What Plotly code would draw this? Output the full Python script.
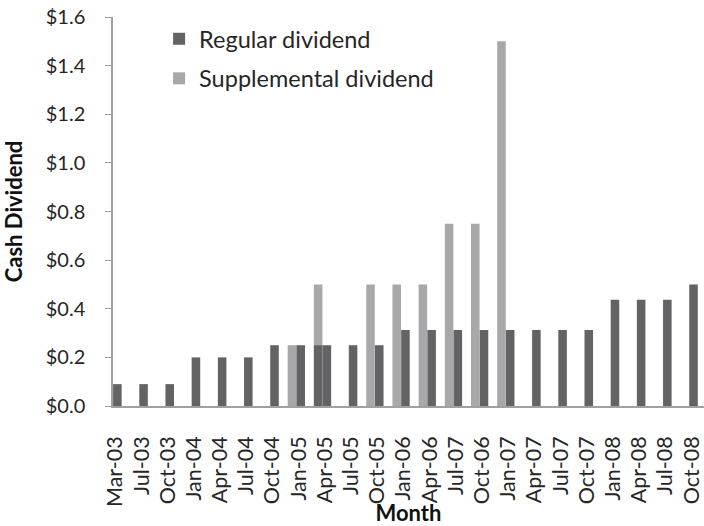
import plotly.graph_objects as go

# Axis slots (one slot per category, labels every 3rd slot)
tick_slots = list(range(0, 67, 3))
tick_labels = ["Mar-03", "Jul-03", "Oct-03", "Jan-04", "Apr-04", "Jul-04", "Oct-04",
               "Jan-05", "Apr-05", "Jul-05", "Oct-05", "Jan-06", "Apr-06", "Jul-07",
               "Oct-06", "Jan-07", "Apr-07", "Jul-07", "Oct-07", "Jan-08", "Apr-08",
               "Jul-08", "Oct-08"]
y_ticks = [0.0, 0.2, 0.4, 0.6, 0.8, 1.0, 1.2, 1.4, 1.6]
y_tick_labels = ["$0.0", "$0.2", "$0.4", "$0.6", "$0.8", "$1.0", "$1.2", "$1.4", "$1.6"]

regular_slots = [0, 3, 6, 9, 12, 15, 18, 21, 23, 24, 27, 30, 33, 36, 39, 42, 45,
                 48, 51, 54, 57, 60, 63, 66]
regular_values = [0.09, 0.09, 0.09, 0.20, 0.20, 0.20, 0.25, 0.25, 0.25, 0.25, 0.25,
                  0.25, 0.3125, 0.3125, 0.3125, 0.3125, 0.3125, 0.3125, 0.3125,
                  0.3125, 0.4375, 0.4375, 0.4375, 0.50]

supp_slots = [20, 23, 29, 32, 35, 38, 41, 44]
supp_values = [0.25, 0.50, 0.50, 0.50, 0.50, 0.75, 0.75, 1.50]

FONT = "Lato"
TXT = "#262626"
AXIS = "#a0a0a0"

fig = go.Figure()
fig.add_trace(go.Bar(x=supp_slots, y=supp_values, name="Supplemental dividend",
                     marker=dict(color="#a8a8aa", line=dict(width=0)), width=0.98,
                     legendgroup="s", legendrank=2))
fig.add_trace(go.Bar(x=regular_slots, y=regular_values, name="Regular dividend",
                     marker=dict(color="#636365", line=dict(width=0)), width=0.98,
                     legendgroup="r", legendrank=1))

fig.update_layout(
    width=704, height=526,
    margin=dict(l=113, r=0, t=17, b=120, autoexpand=False),
    barmode="overlay",
    plot_bgcolor="white", paper_bgcolor="white",
    font=dict(family=FONT, size=22, color=TXT),
    legend=dict(x=0.078, y=1.0, xanchor="left", yanchor="top",
                font=dict(size=23.5, color=TXT), tracegroupgap=6,
                bgcolor="rgba(0,0,0,0)"),
    xaxis=dict(range=[-0.5, 67.2], tickmode="array", tickvals=tick_slots,
               ticktext=tick_labels, tickangle=-90, showgrid=False,
               tickfont=dict(size=21.5),
               showline=True, linecolor=AXIS, linewidth=1.5, ticks="",
               ticklabelstandoff=20, ticklabelshift=-2, ticklabeloverflow="allow",
               zeroline=False, automargin=False,
               title=dict(text="<b>Month</b>", font=dict(size=22, color="#111"), standoff=0)),
    yaxis=dict(range=[0, 1.6], tickmode="array", tickvals=y_ticks,
               ticktext=y_tick_labels, tickfont=dict(size=20),
               showgrid=False, showline=True, linecolor=AXIS, linewidth=1.5,
               ticks="outside", ticklen=6, tickcolor=AXIS, ticklabelstandoff=16,
               ticklabeloverflow="allow", zeroline=False, automargin=True,
               title=dict(text="<b>Cash Dividend</b>", font=dict(size=22, color="#111"), standoff=21)),
)

# the page's default 8px body margin would push the chart off the window
fig.write_html("out.html", config={"displayModeBar": False},
               post_script="document.body.style.margin='0';")
